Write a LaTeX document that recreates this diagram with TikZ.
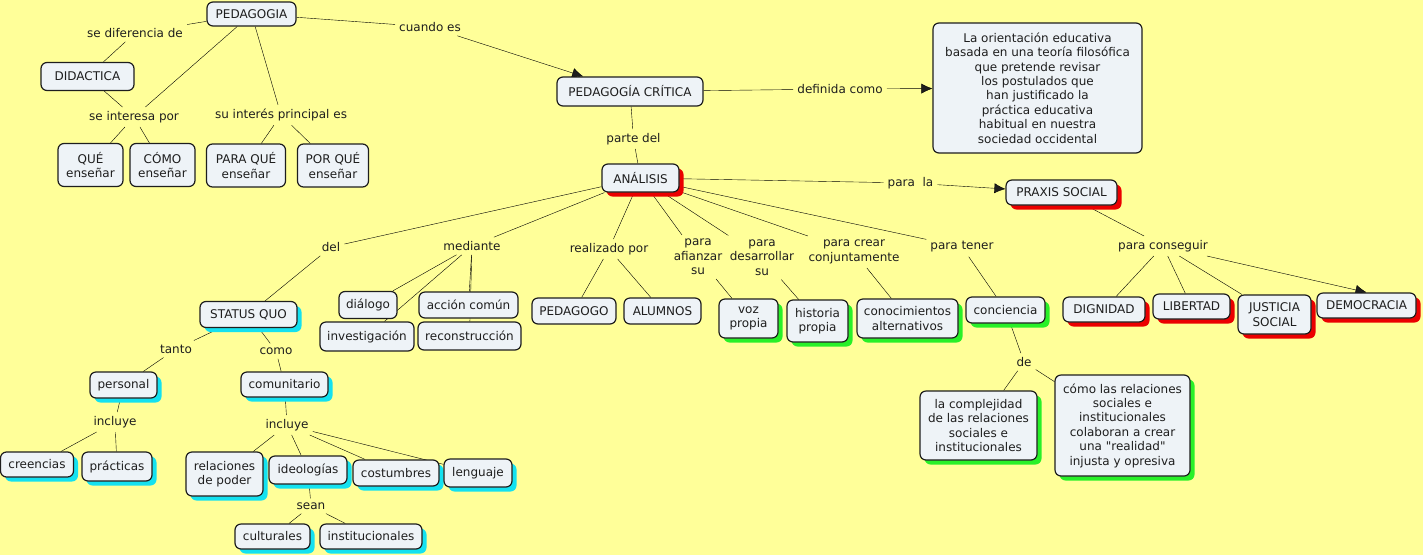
\documentclass[tikz,border=0pt]{standalone}
\usepackage{fontspec}
\setmainfont{DejaVu Sans}
\usetikzlibrary{arrows.meta,shadows,backgrounds}

\definecolor{fondo}{RGB}{255,255,153}
\definecolor{relleno}{RGB}{238,243,247}
\definecolor{trazo}{RGB}{30,30,30}
\definecolor{sroja}{RGB}{235,0,0}
\definecolor{sverde}{RGB}{40,240,40}
\definecolor{scian}{RGB}{20,225,240}

\begin{document}
\begin{tikzpicture}[x=1pt,y=-1pt,>={Latex[length=11pt,width=10pt]},
  font=\fontsize{12}{14.4}\selectfont,text=trazo,
  concepto/.style={draw=trazo,line width=1.2pt,rounded corners=6pt,fill=relleno,align=center,inner sep=4pt},
  tam/.style 2 args={minimum width=#1pt,minimum height=#2pt},
  enlace/.style={align=center,inner sep=4pt},
  roja/.style={drop shadow={shadow xshift=4.5pt,shadow yshift=-4.5pt,fill=sroja,opacity=1}},
  verde/.style={drop shadow={shadow xshift=4.5pt,shadow yshift=-4.5pt,fill=sverde,opacity=1}},
  cian/.style={drop shadow={shadow xshift=4.5pt,shadow yshift=-4.5pt,fill=scian,opacity=1}}]
  \begin{scope}[on background layer]
    \fill[fondo] (0,0) rectangle (1423,555);
  \end{scope}
  \useasboundingbox (0,0) rectangle (1423,555);

  % conceptos
  \node[concepto,tam={89}{24}] (ped) at (251.5,14) {PEDAGOGIA};
  \node[concepto,tam={93}{28}] (did) at (87.5,76.5) {DIDACTICA};
  \node[concepto,tam={65}{43}] (queens) at (90.5,165) {QUÉ\\enseñar};
  \node[concepto,tam={65}{43}] (comoens) at (162.5,165) {CÓMO\\enseñar};
  \node[concepto,tam={79}{43}] (paraque) at (246,165.5) {PARA QUÉ\\enseñar};
  \node[concepto,tam={71}{43}] (porque) at (333,165.5) {POR QUÉ\\enseñar};
  \node[concepto,tam={146}{29}] (pcrit) at (630,91.5) {PEDAGOGÍA CRÍTICA};
  \node[concepto,tam={209}{130}] (defi) at (1037.5,88) {La orientación educativa\\basada en una teoría filosófica\\que pretende revisar\\los postulados que\\han justificado la\\práctica educativa\\habitual en nuestra\\sociedad occidental};
  \node[concepto,roja,tam={77}{28}] (ana) at (640.5,178) {ANÁLISIS};
  \node[concepto,roja,tam={111}{25}] (praxis) at (1061.5,192.5) {PRAXIS SOCIAL};
  \node[concepto,roja,tam={82}{25}] (dig) at (1104,309.5) {DIGNIDAD};
  \node[concepto,roja,tam={77}{25}] (lib) at (1191.5,306.5) {LIBERTAD};
  \node[concepto,roja,tam={73}{39}] (just) at (1274.5,314.5) {JUSTICIA\\SOCIAL};
  \node[concepto,roja,tam={99}{25}] (demo) at (1366.5,305.5) {DEMOCRACIA};
  \node[concepto,cian,tam={97}{26}] (squo) at (248.5,314.5) {STATUS QUO};
  \node[concepto,tam={58}{27}] (dial) at (368,305) {diálogo};
  \node[concepto,tam={99}{26}] (accion) at (468.5,305) {acción común};
  \node[concepto,tam={94}{29}] (inv) at (367,336.5) {investigación};
  \node[concepto,tam={103}{28}] (recon) at (469.5,336) {reconstrucción};
  \node[concepto,tam={84}{26}] (pedagogo) at (574,311) {PEDAGOGO};
  \node[concepto,tam={77}{26}] (alum) at (662.5,311) {ALUMNOS};
  \node[concepto,verde,tam={59}{39}] (voz) at (748.5,318.5) {voz\\propia};
  \node[concepto,verde,tam={61}{42}] (hist) at (817.5,321) {historia\\propia};
  \node[concepto,verde,tam={101}{39}] (conoc) at (907.5,318.5) {conocimientos\\alternativos};
  \node[concepto,verde,tam={79}{26}] (conc) at (1005.5,310) {conciencia};
  \node[concepto,verde,tam={117}{69}] (compl) at (978.5,425.5) {la complejidad\\de las relaciones\\sociales e\\institucionales};
  \node[concepto,verde,tam={135}{101}] (comor) at (1122.5,425.5) {cómo las relaciones\\sociales e\\institucionales\\colaboran a crear\\una \textquotedbl realidad\textquotedbl\\injusta y opresiva};
  \node[concepto,cian,tam={67}{26}] (pers) at (123.5,385) {personal};
  \node[concepto,cian,tam={87}{25}] (comu) at (284.5,384.5) {comunitario};
  \node[concepto,cian,tam={73}{25}] (cree) at (37,464.5) {creencias};
  \node[concepto,cian,tam={70}{29}] (prac) at (117,466.5) {prácticas};
  \node[concepto,cian,tam={77}{44}] (relac) at (224.5,474) {relaciones\\de poder};
  \node[concepto,cian,tam={78}{28}] (ideo) at (308,470) {ideologías};
  \node[concepto,cian,tam={86}{26}] (cost) at (396,473) {costumbres};
  \node[concepto,cian,tam={68}{28}] (leng) at (478,473) {lenguaje};
  \node[concepto,cian,tam={75}{25}] (cult) at (272.5,536.5) {culturales};
  \node[concepto,cian,tam={102}{25}] (inst) at (371,536.5) {institucionales};

  % frases de enlace
  \node[enlace] (pdif) at (135,33) {se diferencia de};
  \node[enlace] (pcuando) at (430,27) {cuando es};
  \node[enlace] (pinter) at (134,117) {se interesa por};
  \node[enlace] (psu) at (281,115) {su interés principal es};
  \node[enlace] (pdefi) at (840,89) {definida como};
  \node[enlace] (pparte) at (633.5,139) {parte del};
  \node[enlace] (ppara) at (910.5,183) {para\ \ la};
  \node[enlace] (pdel) at (331,247) {del};
  \node[enlace] (pmed) at (472,246) {mediante};
  \node[enlace] (preal) at (609,249) {realizado por};
  \node[enlace] (pafi) at (698,257) {para\\afianzar\\su};
  \node[enlace] (pdes) at (762,257.5) {para\\desarrollar\\su};
  \node[enlace] (pcrear) at (854,252) {para crear\\conjuntamente};
  \node[enlace] (ptener) at (962,247) {para tener};
  \node[enlace] (pcons) at (1163,246) {para conseguir};
  \node[enlace] (pde) at (1024,362) {de};
  \node[enlace] (ptanto) at (176,349) {tanto};
  \node[enlace] (pcomo) at (276,351) {como};
  \node[enlace] (pinc) at (115,422) {incluye};
  \node[enlace] (pinc2) at (287,425) {incluye};
  \node[enlace] (psean) at (311,506) {sean};

  \begin{scope}[on background layer,draw=trazo,line width=1pt]
  \path
(ped) edge (pdif) (pdif) edge (did)
(ped) edge (pcuando) (pcuando) edge[->] (pcrit)
(did) edge (pinter) (ped) edge (pinter)
(pinter) edge (queens) (pinter) edge (comoens)
(ped) edge (psu) (psu) edge (paraque) (psu) edge (porque)
(pcrit) edge (pdefi) (pdefi) edge[->] (defi)
(pcrit) edge (pparte) (pparte) edge (ana)
(ana) edge (ppara) (ppara) edge[->] (praxis)
(ana) edge (pdel) (pdel) edge (squo)
(ana) edge (pmed) (pmed) edge (dial) (pmed) edge (inv)
(pmed) edge (accion) (pmed) edge (recon)
(ana) edge (preal) (preal) edge (pedagogo) (preal) edge (alum)
(ana) edge (pafi) (pafi) edge (voz)
(ana) edge (pdes) (pdes) edge (hist)
(ana) edge (pcrear) (pcrear) edge (conoc)
(ana) edge (ptener) (ptener) edge (conc)
(conc) edge (pde) (pde) edge (compl) (pde) edge (comor)
(praxis) edge (pcons) (pcons) edge (dig) (pcons) edge (lib)
(pcons) edge (just) (pcons) edge[->] (demo.north)
(squo) edge (ptanto) (ptanto) edge (pers)
(squo) edge (pcomo) (pcomo) edge (comu)
(pers) edge (pinc) (pinc) edge (cree) (pinc) edge (prac)
(comu) edge (pinc2) (pinc2) edge (relac) (pinc2) edge (ideo)
(pinc2) edge (cost) (pinc2) edge (leng)
(ideo) edge (psean) (psean) edge (cult) (psean) edge (inst)
;
  \end{scope}
\end{tikzpicture}
\end{document}
